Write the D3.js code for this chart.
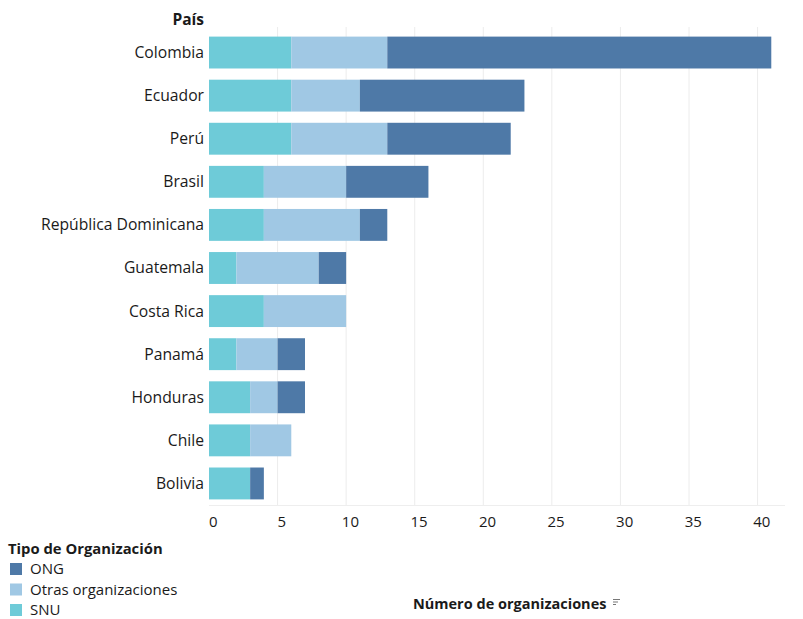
<!DOCTYPE html>
<html>
<head>
<meta charset="utf-8">
<script src="https://cdn.jsdelivr.net/npm/d3@7"></script>
<style>
  body { margin: 0; background: #fff; }
  text { font-family: "Open Sans", "Noto Sans", sans-serif; fill: #1a1a1a; }
</style>
</head>
<body>
<svg id="chart"></svg>
<script>
// datos
const paises = ["Colombia", "Ecuador", "Perú", "Brasil", "República Dominicana", "Guatemala",
  "Costa Rica", "Panamá", "Honduras", "Chile", "Bolivia"];
const snu   = [6, 6, 6, 4, 4, 2, 4, 2, 3, 3, 3];
const otras = [7, 5, 7, 6, 7, 6, 6, 3, 2, 3, 0];
const ong   = [28, 12, 9, 6, 2, 2, 0, 2, 2, 0, 1];
const tipos = ["SNU", "Otras organizaciones", "ONG"];
const leyenda = ["ONG", "Otras organizaciones", "SNU"];
const colores = { "ONG": "#4e79a7", "Otras organizaciones": "#a0c8e4", "SNU": "#6ecbd8" };
const ticks = [0, 5, 10, 15, 20, 25, 30, 35, 40];

const width = 803, height = 619;
const margin = { top: 31, right: 18, bottom: 114, left: 209 };

const svg = d3.select("#chart")
  .attr("width", width)
  .attr("height", height);

const tabla = paises.map((p, i) => ({ pais: p, "SNU": snu[i], "Otras organizaciones": otras[i], "ONG": ong[i] }));
const series = d3.stack().keys(tipos)(tabla);

const x = d3.scaleLinear()
  .domain([0, 42])
  .range([margin.left, width - margin.right]);

const y = d3.scaleBand()
  .domain(paises)
  .range([margin.top, height - margin.bottom])
  .paddingInner(0.26)
  .paddingOuter(0.13);

// rejilla
svg.append("g")
  .selectAll("line")
  .data(ticks.slice(1))
  .join("line")
  .attr("x1", d => x(d)).attr("x2", d => x(d))
  .attr("y1", margin.top - 4).attr("y2", height - margin.bottom)
  .attr("stroke", "#ececec")
  .attr("stroke-width", 1);

svg.append("line")
  .attr("x1", margin.left).attr("x2", width - margin.right)
  .attr("y1", height - margin.bottom + 0.5).attr("y2", height - margin.bottom + 0.5)
  .attr("stroke", "#eeeeee");

// barras
svg.append("g")
  .selectAll("g")
  .data(series)
  .join("g")
  .attr("fill", d => colores[d.key])
  .selectAll("rect")
  .data(d => d)
  .join("rect")
  .attr("x", d => x(d[0]))
  .attr("y", d => y(d.data.pais))
  .attr("width", d => x(d[1]) - x(d[0]))
  .attr("height", y.bandwidth());

// eje y
svg.append("g")
  .selectAll("text")
  .data(paises)
  .join("text")
  .attr("x", margin.left - 5)
  .attr("y", d => y(d) + y.bandwidth() / 2)
  .attr("dy", "0.35em")
  .attr("text-anchor", "end")
  .style("font-size", "15.7px")
  .text(d => d);

svg.append("text")
  .attr("x", margin.left - 5)
  .attr("y", 25)
  .attr("text-anchor", "end")
  .style("font-size", "15.5px")
  .style("font-weight", "bold")
  .text("País");

// eje x
const ejeX = svg.append("g")
  .attr("transform", `translate(0,${height - margin.bottom})`)
  .call(d3.axisBottom(x).tickValues(ticks).tickSize(0).tickPadding(11));
ejeX.select(".domain").remove();
ejeX.selectAll("text")
  .attr("dx", "0.25em")
  .style("font-size", "15px")
  .style("font-family", "\"Open Sans\", sans-serif")
  .style("fill", "#1a1a1a");

svg.append("text")
  .attr("x", 413)
  .attr("y", 609)
  .style("font-size", "14.5px")
  .style("font-weight", "bold")
  .text("Número de organizaciones");

// icono de orden
const icono = svg.append("g").attr("stroke", "#777").attr("stroke-width", 1);
[[0, 7], [1, 5], [2, 3]].forEach(([i, w]) => {
  icono.append("line")
    .attr("x1", 613).attr("x2", 613 + w)
    .attr("y1", 599.5 + i * 2.5).attr("y2", 599.5 + i * 2.5);
});

// leyenda
svg.append("text")
  .attr("x", 8)
  .attr("y", 554)
  .style("font-size", "14.8px")
  .style("font-weight", "bold")
  .text("Tipo de Organización");

const item = svg.append("g")
  .selectAll("g")
  .data(leyenda)
  .join("g")
  .attr("transform", (d, i) => `translate(10,${563 + i * 20.5})`);

item.append("rect")
  .attr("width", 12)
  .attr("height", 12)
  .attr("fill", d => colores[d]);

item.append("text")
  .attr("x", 20)
  .attr("y", 11)
  .style("font-size", "15px")
  .text(d => d);
</script>
</body>
</html>
